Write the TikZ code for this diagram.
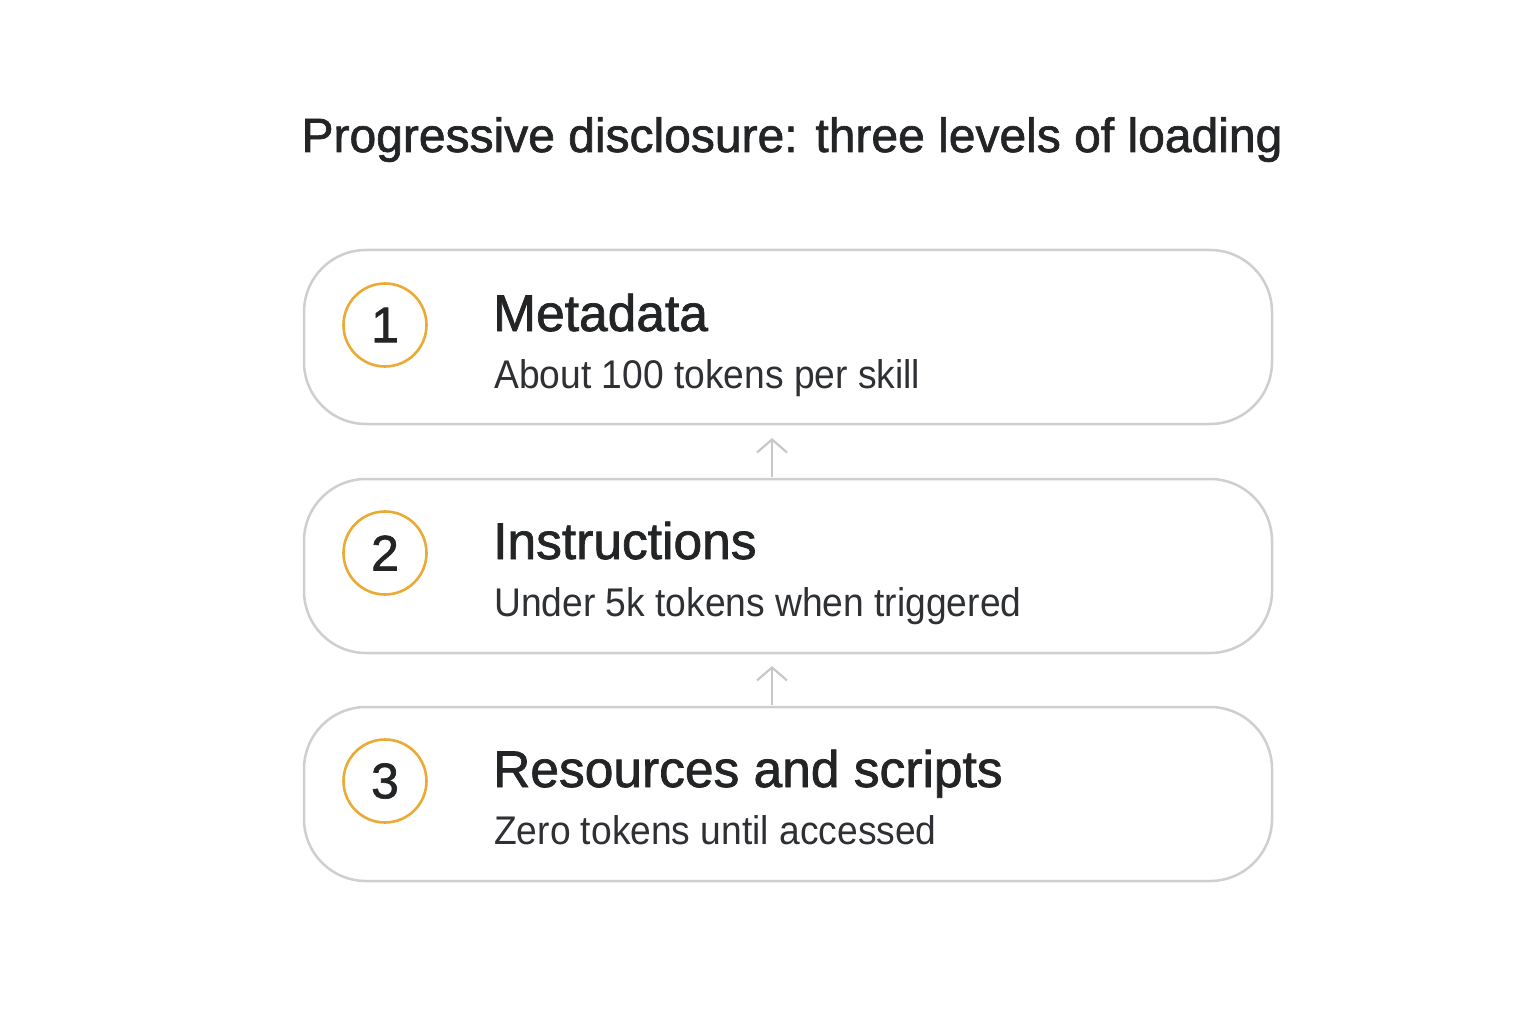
\documentclass[tikz,border=0pt]{standalone}
\usepackage{fontspec}
\setmainfont{Liberation Sans}
\newfontfamily\medfont[FakeBold=1.4]{Liberation Sans}
\newfontfamily\subfont[FakeStretch=0.93]{Liberation Sans}
\usetikzlibrary{arrows.meta}
\definecolor{boxline}{HTML}{CFCFCF}
\definecolor{ring}{HTML}{EBAA33}
\definecolor{ink}{HTML}{222426}
\definecolor{subink}{HTML}{2E3033}
\definecolor{arrowc}{HTML}{C8C8C8}
\tikzset{
  card/.style={draw=boxline, line width=2.5pt, rounded corners=62pt, fill=white},
  numring/.style={circle, draw=ring, line width=2.6pt, minimum size=83pt, inner sep=0pt, font=\medfont\fontsize{50}{50}\selectfont, text=ink},
  cardtitle/.style={anchor=base west, inner sep=0pt, font=\medfont\fontsize{51.5}{52}\selectfont, text=ink},
  cardsub/.style={anchor=base west, inner sep=0pt, font=\subfont\fontsize{40}{40}\selectfont, text=subink},
  uparrow/.style={draw=arrowc, line width=2.2pt, -{Straight Barb[length=13pt,width=30pt,line width=2.2pt]}},
}
\begin{document}
\begin{tikzpicture}[x=1pt,y=-1pt]
\useasboundingbox (0,0) rectangle (1536,1024);
\fill[white] (0,0) rectangle (1536,1024);
\node[anchor=base, inner sep=0pt, font=\medfont\fontsize{48}{48}\selectfont, text=ink] (title) at (792,152) {Progressive disclosure: three levels of loading};
% cards
\draw[card] (304,250) rectangle (1272,424);
\draw[card] (304,479) rectangle (1272,653);
\draw[card] (304,707) rectangle (1272,881);
\coordinate (a1s) at (772,477);
\coordinate (a1e) at (772,438);
\coordinate (a2s) at (772,705);
\coordinate (a2e) at (772,666);
\node[numring] (n1) at (385,325) {1};
\node[numring] (n2) at (385,553) {2};
\node[numring] (n3) at (385,781) {3};
\node[cardtitle] (t1) at (493,331) {Metadata};
\node[cardsub] (s1) at (494,388) {About 100 tokens per skill};
\node[cardtitle] (t2) at (493,559) {Instructions};
\node[cardsub] (s2) at (494,616) {Under 5k tokens when triggered};
\node[cardtitle] (t3) at (493,787) {Resources and scripts};
\node[cardsub] (s3) at (494,844) {Zero tokens until accessed};
\draw[uparrow] (a1s) -- (a1e);
\draw[uparrow] (a2s) -- (a2e);
\end{tikzpicture}
\end{document}
